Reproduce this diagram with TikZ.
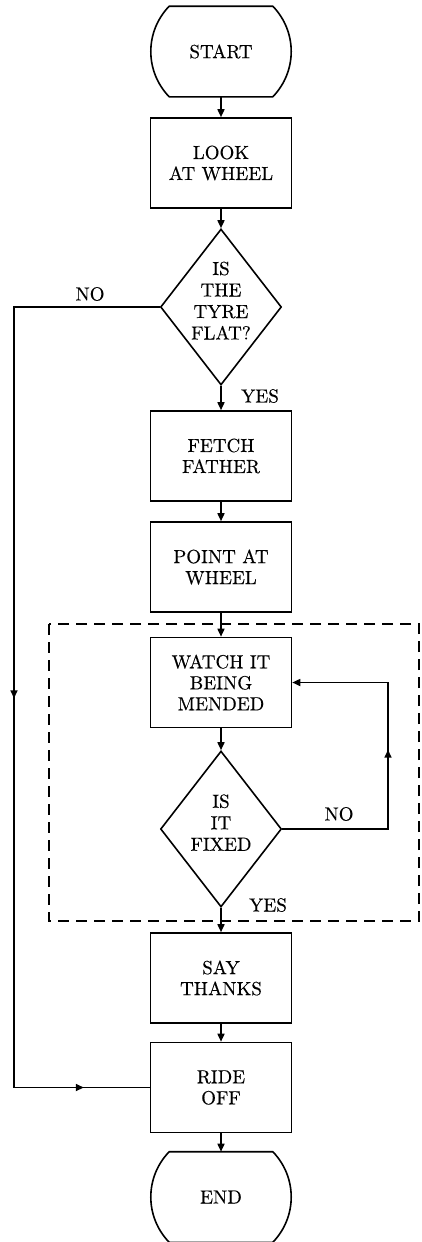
\documentclass[tikz,border=0pt]{standalone}
\usepackage{fontspec}
\setmainfont{lmroman10-regular.otf}
\usetikzlibrary{shapes.geometric,arrows.meta,calc,decorations.markings}
\tikzset{midtip/.tip={Triangle[length=8pt,width=7pt]}}
\begin{document}
\begin{tikzpicture}[x=1pt,y=-1pt,
  line width=1.6pt,
  every node/.style={font=\fontsize{19}{21}\selectfont\addfontfeatures{FakeBold=0.3}, align=center},
  box/.style={draw, rectangle, minimum width=141pt, minimum height=90pt, inner sep=0pt},
  term/.style={rectangle, minimum width=138pt, minimum height=89pt, inner sep=0pt},
  decision/.style={draw, diamond, shape aspect=0.78, minimum width=121pt, minimum height=156pt, inner sep=0pt,
    font=\fontsize{19}{21.5}\selectfont\addfontfeatures{FakeBold=0.3}, text depth=6pt},
  lbl/.style={inner sep=0pt},
  tip/.style={-{midtip}},
  groupbox/.style={dashed, dash pattern=on 11pt off 7pt, line width=1.4pt}
]
\useasboundingbox (0,0) rectangle (421,1242);

% nodes
\node[term] (start) at (221,51.5) {START};
\node[box] (look) at (221,163) {LOOK\\AT WHEEL};
\node[decision, text height=71pt] (d1) at (221,307) {IS\\THE\\TYRE\\FLAT?};
\node[box] (fetch) at (221,456) {FETCH\\FATHER};
\node[box] (point) at (221,567) {POINT AT\\WHEEL};
\node[box] (watch) at (221,682.5) {WATCH IT\\BEING\\MENDED};
\node[decision, text height=49.5pt] (d2) at (221,829) {IS\\IT\\FIXED};
\node[box] (say) at (221,978) {SAY\\THANKS};
\node[box] (ride) at (221,1087.5) {RIDE\\OFF};
\node[term] (stop) at (221,1197) {END};

% terminal outlines
\foreach \n in {start,stop}{
  \draw ($(\n.north west)+(18,0)$) -- ($(\n.north east)+(-18,0)$)
     to[bend left=44] ($(\n.south east)+(-18,0)$)
     -- ($(\n.south west)+(18,0)$)
     to[bend left=44] cycle;
}

% dashed group
\draw[groupbox] (49,624) rectangle (419,921);

% labels
\node[lbl] (no1) at (90,294) {NO};
\node[lbl] (yes1) at (260,396) {YES};
\node[lbl] (no2) at (339,814) {NO};
\node[lbl] (yes2) at (268,905) {YES};

% main flow
\draw[tip] (start) -- (look);
\draw[tip] (look) -- (d1);
\draw[tip] (d1) -- (fetch);
\draw[tip] (fetch) -- (point);
\draw[tip] (point) -- (watch);
\draw[tip] (watch) -- (d2);
\draw[tip] (d2) -- (say);
\draw[tip] (say) -- (ride);
\draw[tip] (ride) -- (stop);

% NO branch of first decision
\coordinate (n1) at (14,307);
\coordinate (n2) at (14,1087.5);
\draw[postaction={decorate}, decoration={markings,
    mark=at position 537pt with {\arrow{midtip}},
    mark=at position 996pt with {\arrow{midtip}}}]
  (d1.west) -- (n1) -- (n2) -- (ride.west);

% NO branch of second decision
\coordinate (r1) at (388,829);
\coordinate (r2) at (388,682.5);
\draw[tip, postaction={decorate}, decoration={markings,
    mark=at position 185pt with {\arrow{midtip}}}]
  (d2.east) -- (r1) -- (r2) -- (watch.east);
\end{tikzpicture}
\end{document}
